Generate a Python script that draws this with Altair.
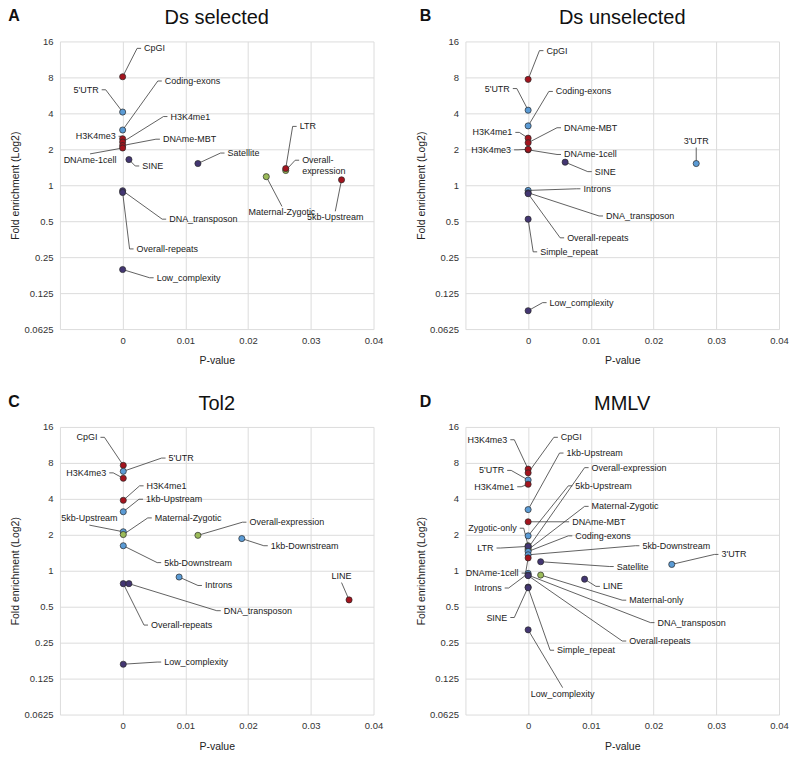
import altair as alt
import pandas as pd

# ---------------- Panel A: Ds selected ----------------
a_names = ["CpGI", "5'UTR", "Coding-exons", "H3K4me3", "H3K4me1", "DNAme-MBT", "DNAme-1cell",
           "SINE", "Satellite", "Overall-\nexpression", "LTR", "Maternal-Zygotic", "5kb-Upstream",
           "DNA_transposon", "Overall-repeats", "Low_complexity"]
a_pval = [0.0, 0.0, 0.0, 0.0, 0.0, 0.0, 0.0, 0.001, 0.012, 0.026, 0.026, 0.0229, 0.0349, 0.0, 0.0, 0.0]
a_fold = [8.1, 4.1, 2.9, 2.45, 2.3, 2.15, 2.05, 1.64, 1.52, 1.33, 1.38, 1.18, 1.11, 0.9, 0.87, 0.197]
a_cls = ["red", "blue", "blue", "red", "red", "red", "red", "purple", "purple", "green", "red",
         "green", "red", "purple", "purple", "purple"]
a_labx = [0.0031, -0.0035, 0.0064, -0.0008, 0.0073, 0.0061, -0.0052, 0.0028, 0.0164, 0.0283, 0.0279,
          0.0254, 0.0339, 0.0071, 0.0019, 0.0051]
a_laby = [14.0, 6.3, 7.46, 2.57, 3.76, 2.43, 1.83, 1.45, 1.86, 1.62, 3.11, 0.665, 0.605, 0.52, 0.293, 0.168]
a_side = ["r", "l", "r", "l", "r", "r", "b", "r", "r", "r", "r", "b", "b", "r", "r", "r"]

# ---------------- Panel B: Ds unselected ----------------
b_names = ["CpGI", "5'UTR", "Coding-exons", "H3K4me1", "DNAme-MBT", "DNAme-1cell", "H3K4me3", "SINE",
           "3'UTR", "Introns", "DNA_transposon", "Overall-repeats", "Simple_repeat", "Low_complexity"]
b_pval = [0.0, 0.0, 0.0, 0.0, 0.0, 0.0, 0.0, 0.0059, 0.0268, 0.0, 0.0, 0.0, 0.0, 0.0]
b_fold = [7.7, 4.25, 3.14, 2.48, 2.27, 1.98, 2.0, 1.56, 1.52, 0.905, 0.865, 0.85, 0.52, 0.089]
b_cls = ["red", "blue", "blue", "red", "red", "red", "red", "purple", "blue", "blue", "purple",
         "purple", "purple", "purple"]
b_labx = [0.0026, -0.0026, 0.0041, -0.0022, 0.0054, 0.0054, -0.0024, 0.0103, 0.0268, 0.0085, 0.0121,
          0.0059, 0.0016, 0.0031]
b_laby = [13.4, 6.45, 6.1, 2.77, 3.03, 1.81, 1.98, 1.30, 2.07, 0.934, 0.553, 0.363, 0.277, 0.104]
b_side = ["r", "l", "r", "l", "r", "r", "l", "r", "t", "r", "r", "r", "r", "r"]

# ---------------- Panel C: Tol2 ----------------
c_names = ["CpGI", "H3K4me3", "5'UTR", "H3K4me1", "1kb-Upstream", "5kb-Upstream", "Maternal-Zygotic",
           "Overall-expression", "1kb-Downstream", "5kb-Downstream", "Introns", "Overall-repeats",
           "DNA_transposon", "LINE", "Low_complexity"]
c_pval = [0.0001, 0.0001, 0.0001, 0.0001, 0.0001, 0.0001, 0.0001, 0.012, 0.019, 0.0001, 0.009, 0.0001,
          0.001, 0.0361, 0.0001]
c_fold = [7.63, 5.95, 6.8, 3.89, 3.12, 2.12, 2.01, 1.98, 1.86, 1.62, 0.886, 0.78, 0.78, 0.57, 0.165]
c_cls = ["red", "red", "blue", "red", "blue", "blue", "green", "green", "blue", "blue", "blue",
         "purple", "purple", "red", "purple"]
c_labx = [-0.0037, -0.0023, 0.007, 0.0035, 0.0034, -0.0053, 0.0048, 0.0199, 0.0233, 0.0063, 0.0128,
          0.0042, 0.0158, 0.0349, 0.0063]
c_laby = [13.1, 6.6, 8.78, 5.14, 3.97, 2.41, 2.77, 2.55, 1.62, 1.17, 0.753, 0.351, 0.463, 0.796, 0.172]
c_side = ["l", "l", "r", "r", "r", "t", "r", "r", "r", "r", "r", "r", "r", "t", "r"]

# ---------------- Panel D: MMLV ----------------
d_names = ["H3K4me3", "CpGI", "5'UTR", "H3K4me1", "1kb-Upstream", "DNAme-MBT", "5kb-Upstream",
           "Zygotic-only", "Overall-expression", "Maternal-Zygotic", "LTR", "Coding-exons",
           "5kb-Downstream", "DNAme-1cell", "Satellite", "3'UTR", "Maternal-only", "LINE", "Introns",
           "DNA_transposon", "Overall-repeats", "SINE", "Simple_repeat", "Low_complexity"]
d_pval = [0.0, 0.0, 0.0, 0.0, 0.0, 0.0, 0.0, 0.0, 0.0, 0.0, 0.0, 0.0, 0.0, 0.0, 0.002, 0.0229, 0.002,
          0.009, 0.0, 0.0, 0.0, 0.0, 0.0, 0.0]
d_fold = [7.1, 6.6, 5.75, 5.3, 3.25, 2.57, 1.96, 1.62, 1.55, 1.5, 1.6, 1.45, 1.36, 1.28, 1.19, 1.13,
          0.92, 0.85, 0.95, 0.92, 0.91, 0.73, 0.72, 0.32]
d_cls = ["red", "red", "blue", "red", "blue", "red", "blue", "green", "green", "green", "purple", "blue",
         "blue", "red", "purple", "blue", "green", "purple", "blue", "purple", "purple", "purple",
         "purple", "purple"]
d_labx = [-0.003, 0.0049, -0.0035, -0.0019, 0.0058, 0.0067, 0.0072, -0.0015, 0.0098, 0.0098, -0.0052,
          0.0072, 0.0179, -0.0012, 0.0138, 0.0305, 0.0158, 0.0116, -0.0039, 0.0203, 0.0158, -0.003,
          0.0043, 0.0055]
d_laby = [12.5, 13.1, 6.92, 5.05, 9.67, 2.57, 5.14, 2.27, 7.3, 3.46, 1.55, 1.96, 1.62, 0.956, 1.085,
          1.37, 0.567, 0.74, 0.717, 0.368, 0.258, 0.406, 0.216, 0.105]
d_side = ["l", "r", "l", "l", "r", "r", "r", "l", "r", "r", "l", "r", "r", "l", "r", "r", "r", "r", "l",
          "r", "r", "l", "r", "b"]

x_ticks = [-0.01, 0.0, 0.01, 0.02, 0.03, 0.04]
y_ticks = [0.0625, 0.125, 0.25, 0.5, 1, 2, 4, 8, 16]
cls_domain = ["red", "blue", "purple", "green"]
cls_range = ["#a3141e", "#5b9bd5", "#433672", "#9bbb59"]

W, H = 314, 288
FONT = "Liberation Sans"
LINE_C = "#3a3a3a"


def panel(names, pv, fe, cls, lx, ly, side, title, letter, let_x, let_y):
    df = pd.DataFrame(dict(name=names, p=pv, f=fe, cls=cls, lx=lx, ly=ly, side=side))
    xs = alt.Scale(domain=[-0.01, 0.04], nice=False, zero=False)
    ys = alt.Scale(type="log", base=2, domain=[0.0625, 16], nice=False)
    xax = alt.Axis(values=x_ticks, grid=True, ticks=False, domain=False,
                   labelExpr="datum.value < -0.005 ? '' : format(datum.value, '~g')",
                   labelFontSize=9.5, labelColor="#333333", labelPadding=6,
                   titleFontSize=10.5, titleFontWeight="normal", titleColor="#222222",
                   titlePadding=11, gridColor="#dcdcdc", labelFlush=False)
    yax = alt.Axis(values=y_ticks, grid=True, ticks=False, domain=False, format="~g",
                   labelFontSize=9.5, labelColor="#333333", labelPadding=7,
                   titleFontSize=10.5, titleFontWeight="normal", titleColor="#222222",
                   titlePadding=3, gridColor="#dcdcdc", labelFlush=False)
    X = lambda f: alt.X(f, type="quantitative", scale=xs, axis=xax, title="P-value")
    Y = lambda f: alt.Y(f, type="quantitative", scale=ys, axis=yax, title="Fold enrichment (Log2)")
    base = alt.Chart(df)
    tstyle = dict(fontSize=9, color="#1a1a1a", font=FONT, lineBreak="\n")
    layers = []
    # leader lines: angled part + short horizontal tail at the label (Excel style)
    side_cfg = {
        "r": dict(off=-5, tail=(-5, -1), text=dict(align="left", baseline="middle", dx=2)),
        "l": dict(off=5, tail=(1, 5), text=dict(align="right", baseline="middle", dx=-2)),
        "t": dict(off=0, tail=None, text=dict(align="center", baseline="bottom", dy=-2)),
        "b": dict(off=0, tail=None, text=dict(align="center", baseline="top", dy=2)),
    }
    for s, cfg in side_cfg.items():
        sub = base.transform_filter(alt.datum.side == s)
        layers.append(sub.mark_rule(color=LINE_C, strokeWidth=0.8, x2Offset=cfg["off"]).encode(
            x=X("p"), y=Y("f"), x2="lx", y2="ly"))
        if cfg["tail"] is not None:
            layers.append(sub.mark_rule(color=LINE_C, strokeWidth=0.8,
                                        xOffset=cfg["tail"][0], x2Offset=cfg["tail"][1]).encode(
                x=X("lx"), x2="lx", y=Y("ly")))
    pts = base.mark_circle(size=38, opacity=1, stroke="#2a2a2a", strokeWidth=0.7).encode(
        x=X("p"), y=Y("f"),
        color=alt.Color("cls:N", scale=alt.Scale(domain=cls_domain, range=cls_range), legend=None))
    layers.append(pts)
    for s, cfg in side_cfg.items():
        layers.append(base.transform_filter(alt.datum.side == s).mark_text(
            **cfg["text"], **tstyle).encode(x=X("lx"), y=Y("ly"), text="name:N"))
    let = alt.Chart(pd.DataFrame({"t": [letter]})).mark_text(
        fontSize=16, fontWeight="bold", align="center", baseline="middle", font=FONT, color="#111111"
    ).encode(x=alt.value(let_x), y=alt.value(let_y), text="t:N")
    ttl = alt.Chart(pd.DataFrame({"t": [title]})).mark_text(
        fontSize=20, align="center", baseline="middle", font=FONT, color="#111111"
    ).encode(x=alt.value(W / 2), y=alt.value(-23), text="t:N")
    layers += [let, ttl]
    return alt.layer(*layers).properties(width=W, height=H)


pA = panel(a_names, a_pval, a_fold, a_cls, a_labx, a_laby, a_side, "Ds selected", "A", -46, -25)
pB = panel(b_names, b_pval, b_fold, b_cls, b_labx, b_laby, b_side, "Ds unselected", "B", -40, -25)
pC = panel(c_names, c_pval, c_fold, c_cls, c_labx, c_laby, c_side, "Tol2", "C", -46, -25)
pD = panel(d_names, d_pval, d_fold, d_cls, d_labx, d_laby, d_side, "MMLV", "D", -40, -25)

chart = alt.vconcat(
    alt.hconcat(pA, pB, spacing=32),
    alt.hconcat(pC, pD, spacing=32),
    spacing=28,
).properties(padding={"left": 0, "top": 0, "right": 0, "bottom": 0}).configure(
    font=FONT
).configure_view(strokeWidth=0)

chart.save("out.html", embed_options={"renderer": "svg", "actions": False})
